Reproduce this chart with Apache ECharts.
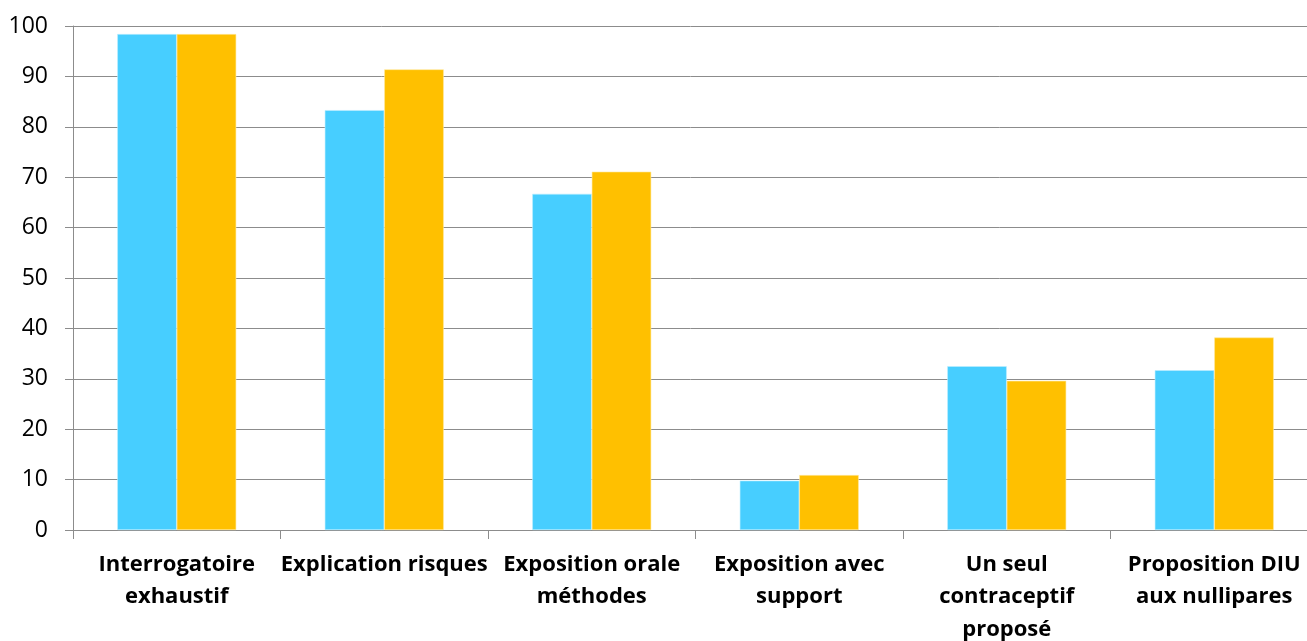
<!DOCTYPE html>
<html>
<head>
<meta charset="utf-8">
<script src="https://cdn.jsdelivr.net/npm/echarts@6/dist/echarts.min.js"></script>
<style>
html,body{margin:0;padding:0;background:#fff;}
#c{width:1307px;height:641px;}
</style>
</head>
<body>
<div id="c"></div>
<script>
const categories = [
  "Interrogatoire\nexhaustif",
  "Explication risques",
  "Exposition orale\nméthodes",
  "Exposition avec\nsupport",
  "Un seul\ncontraceptif\nproposé",
  "Proposition DIU\naux nullipares"
];
const seriesBlue = [98.4, 83.3, 66.7, 9.8, 32.5, 31.7];
const seriesOrange = [98.4, 91.4, 71.1, 10.9, 29.6, 38.2];
const yTicks = {min: 0, max: 100, interval: 10};

const chart = echarts.init(document.getElementById('c'), null, {renderer: 'canvas'});
chart.setOption({
  animation: false,
  backgroundColor: '#fff',
  grid: {left: 73, top: 26, height: 504, width: 1245, containLabel: false, outerBoundsMode: 'none'},
  xAxis: {
    type: 'category',
    data: categories,
    axisLine: {show: true, lineStyle: {color: '#8c8c8c', width: 1}},
    axisTick: {show: true, length: 9, alignWithLabel: false, lineStyle: {color: '#8c8c8c'}},
    axisLabel: {
      interval: 0, margin: 18, color: '#000',
      fontFamily: 'Open Sans', fontWeight: 'bold', fontSize: 22, lineHeight: 32.5
    },
    splitLine: {show: false}
  },
  yAxis: {
    type: 'value',
    min: yTicks.min, max: yTicks.max, interval: yTicks.interval,
    axisLine: {show: true, lineStyle: {color: '#8c8c8c', width: 1}},
    axisTick: {show: true, length: 8, lineStyle: {color: '#8c8c8c'}},
    axisLabel: {margin: 25, color: '#000', fontFamily: 'Open Sans', fontSize: 23},
    splitLine: {show: true, lineStyle: {color: '#8c8c8c', width: 1}}
  },
  series: [
    {type: 'bar', data: seriesBlue, barWidth: 59.5, barGap: '0%',
     itemStyle: {color: '#47CEFF', borderColor: '#bdefff', borderWidth: 0.6}},
    {type: 'bar', data: seriesOrange, barWidth: 59.5, barGap: '0%',
     itemStyle: {color: '#FFC000', borderColor: '#ffe9a0', borderWidth: 0.6}}
  ]
});
</script>
</body>
</html>
